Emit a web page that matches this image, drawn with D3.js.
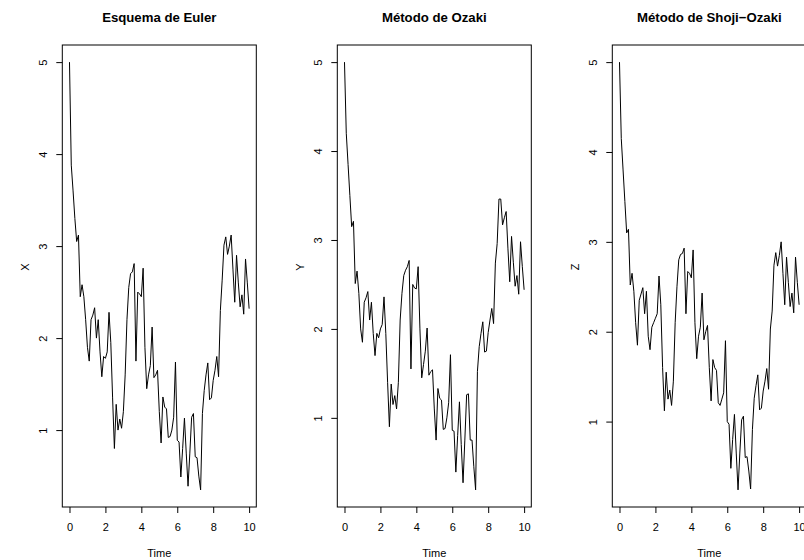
<!DOCTYPE html>
<html>
<head>
<meta charset="utf-8">
<script src="https://cdn.jsdelivr.net/npm/d3@7"></script>
<style>
  body { margin: 0; background: #fff; }
  text { font-family: "Liberation Sans", Arial, Helvetica, sans-serif; fill: #000; }
</style>
</head>
<body>
<svg id="chart"></svg>
<script>
// time base of the series: start 0, step 0.1, 101 points
const t0 = 0, dt = 0.1, nPts = 101
const time = d3.range(nPts).map(i => t0 + i * dt)

const titles = ["Esquema de Euler", "Método de Ozaki", "Método de Shoji\u2212Ozaki"]
const yLabels = ["X", "Y", "Z"]
const xTicks = [0, 2, 4, 6, 8, 10]
const yTicks = [1, 2, 3, 4, 5]

const euler =
  [5.00,3.88,3.60,3.30,3.05,3.12,2.45,2.58,2.45,2.20,
   1.90,1.75,2.20,2.25,2.33,2.00,2.20,1.85,1.58,1.80,
   1.78,1.85,2.28,1.95,1.35,0.80,1.28,1.00,1.12,1.02,
   1.20,1.60,2.20,2.55,2.70,2.72,2.81,1.75,2.50,2.48,
   2.45,2.76,1.90,1.45,1.60,1.70,2.12,1.57,1.60,1.65,
   1.20,0.86,1.36,1.25,1.23,0.92,0.93,1.00,1.14,1.74,
   0.89,0.87,0.49,0.80,1.13,0.75,0.39,0.75,1.14,1.18,
   0.71,0.70,0.50,0.35,1.18,1.43,1.60,1.73,1.33,1.35,
   1.54,1.65,1.80,1.58,2.30,2.63,3.01,3.10,2.91,3.00,
   3.12,2.75,2.39,2.90,2.60,2.34,2.47,2.26,2.86,2.60,
   2.32]

const ozaki =
  [5.00,4.20,3.85,3.50,3.15,3.21,2.51,2.65,2.40,2.00,
   1.85,2.30,2.35,2.42,2.10,2.30,1.95,1.70,1.95,1.90,
   2.00,2.05,2.36,1.95,1.40,0.90,1.38,1.15,1.25,1.10,
   1.40,2.10,2.40,2.60,2.66,2.70,2.77,1.55,2.50,2.46,
   2.45,2.70,2.00,1.45,1.60,1.75,2.01,1.48,1.52,1.54,
   1.10,0.75,1.33,1.22,1.20,0.87,0.88,1.00,1.17,1.71,
   0.86,0.85,0.39,0.80,1.18,0.70,0.27,0.75,1.26,1.27,
   0.75,0.75,0.45,0.19,1.52,1.80,1.95,2.08,1.74,1.75,
   1.96,2.10,2.23,2.06,2.74,2.96,3.46,3.46,3.17,3.25,
   3.32,2.90,2.53,3.04,2.75,2.48,2.60,2.39,2.98,2.70,
   2.44]

const shoji =
  [5.00,4.15,3.80,3.45,3.10,3.14,2.52,2.65,2.45,2.10,
   1.85,2.35,2.42,2.49,2.20,2.45,1.95,1.80,2.05,2.10,
   2.15,2.20,2.62,2.30,1.60,1.12,1.55,1.25,1.35,1.18,
   1.45,2.10,2.50,2.80,2.86,2.87,2.93,2.20,2.67,2.65,
   2.60,2.91,2.10,1.70,1.95,2.05,2.43,1.91,2.00,2.07,
   1.60,1.23,1.69,1.60,1.57,1.21,1.18,1.25,1.32,1.90,
   1.00,0.97,0.48,0.80,1.08,0.65,0.24,0.65,1.02,1.06,
   0.60,0.61,0.45,0.25,0.91,1.26,1.40,1.52,1.13,1.15,
   1.34,1.45,1.59,1.36,2.03,2.23,2.74,2.88,2.73,2.85,
   3.00,2.65,2.30,2.83,2.55,2.28,2.43,2.21,2.83,2.55,
   2.30]

const series = [euler, ozaki, shoji]

const width = 804, height = 560
const colW = 275
const box = { left: 62.3, width: 194, top: 45, bottom: 507 }

// R style axis range: data range padded by 4% each side
const rRange = ([lo, hi]) => {
  const d = (hi - lo) * 0.04
  return [lo - d, hi + d]
}

const svg = d3.select("#chart")
    .attr("width", width)
    .attr("height", height)

series.forEach((vals, k) => {
  const g = svg.append("g")
      .attr("transform", "translate(" + (k * colW) + ",0)")

  const x = d3.scaleLinear()
      .domain(rRange(d3.extent(time)))
      .range([box.left, box.left + box.width])
  const y = d3.scaleLinear()
      .domain(rRange(d3.extent(vals)))
      .range([box.bottom, box.top])

  const line = d3.line()
      .x((d, i) => x(time[i]))
      .y(d => y(d))

  g.append("path")
      .datum(vals)
      .attr("d", line)
      .attr("fill", "none")
      .attr("stroke", "#000")
      .attr("stroke-width", 1)
      .attr("stroke-linejoin", "round")

  const xAxis = g.append("g")
      .attr("transform", "translate(0," + box.bottom + ")")
      .call(d3.axisBottom(x).tickValues(xTicks).tickFormat(d3.format("d"))
          .tickSize(6).tickSizeOuter(0))
  xAxis.select(".domain").remove()
  xAxis.selectAll("text")
      .attr("font-size", 11)
      .attr("dy", null)
      .attr("y", 24)
  xAxis.selectAll("line").attr("stroke", "#000")

  const yAxis = g.append("g")
      .attr("transform", "translate(" + box.left + ",0)")
      .call(d3.axisLeft(y).tickValues(yTicks).tickFormat(d3.format("d"))
          .tickSize(6).tickSizeOuter(0))
  yAxis.select(".domain").remove()
  yAxis.selectAll("line").attr("stroke", "#000")
  yAxis.selectAll("text")
      .attr("font-size", 11)
      .attr("x", 0)
      .attr("dy", null)
      .attr("y", -15.6)
      .attr("text-anchor", "middle")
      .attr("transform", "rotate(-90)")

  g.append("rect")
      .attr("x", box.left)
      .attr("y", box.top)
      .attr("width", box.width)
      .attr("height", box.bottom - box.top)
      .attr("fill", "none")
      .attr("stroke", "#000")
      .attr("stroke-width", 1)

  g.append("text")
      .attr("x", box.left + box.width / 2)
      .attr("y", 21.5)
      .attr("text-anchor", "middle")
      .attr("font-size", 13.2)
      .attr("font-weight", "bold")
      .text(titles[k])

  g.append("text")
      .attr("x", box.left + box.width / 2)
      .attr("y", 557)
      .attr("text-anchor", "middle")
      .attr("font-size", 11)
      .text("Time")

  g.append("text")
      .attr("transform", "translate(29.3,267) rotate(-90)")
      .attr("text-anchor", "middle")
      .attr("font-size", 11)
      .text(yLabels[k])
})
</script>
</body>
</html>
